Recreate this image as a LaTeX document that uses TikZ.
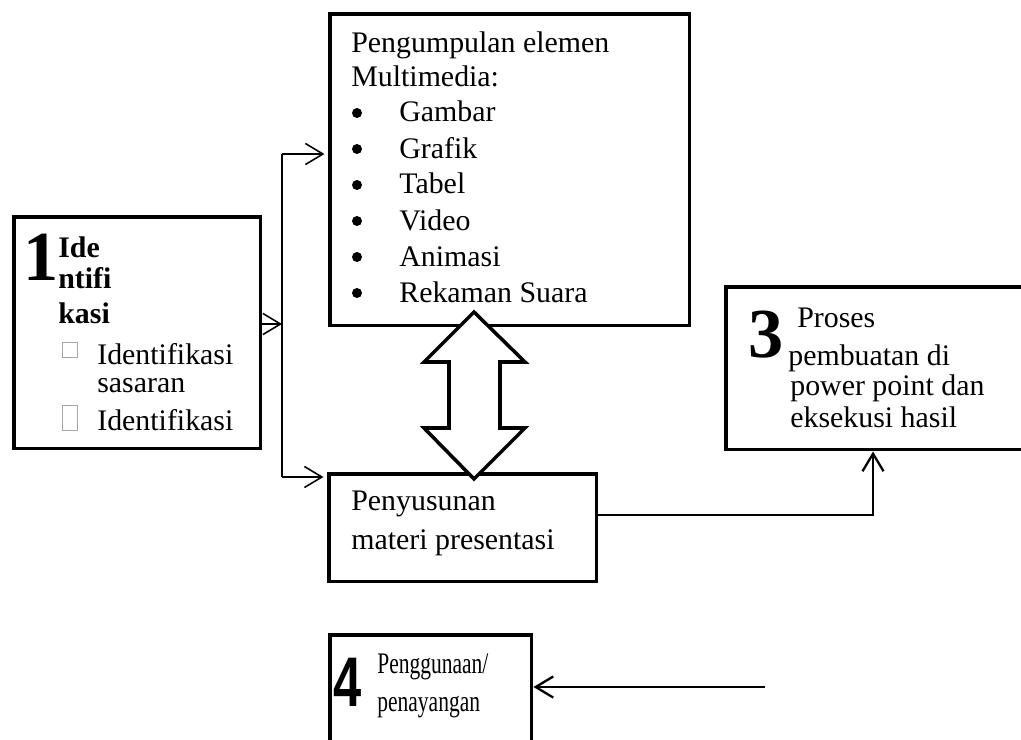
\documentclass[tikz,border=0pt]{standalone}
\usepackage{fontspec}
\setmainfont{Liberation Serif}
\newfontfamily\sansnum{Liberation Sans}
\usetikzlibrary{arrows.meta, calc}

\newcommand{\narrow}[1]{\scalebox{0.72}[1]{#1}}

\tikzset{
  box/.style={draw, line width=2pt, anchor=north west, inner sep=0pt},
  txt/.style={anchor=base west, inner sep=0pt, font=\fontsize{17}{20}\selectfont},
  boldtxt/.style={txt, font=\fontsize{17}{20}\selectfont\bfseries},
  num/.style={anchor=base west, inner sep=0pt, font=\fontsize{40}{40}\selectfont\bfseries},
  sq/.style={draw=gray!70, line width=0.5pt, anchor=north west, inner sep=0pt, minimum width=0.3cm},
  dot/.style={circle, fill, inner sep=0pt, minimum size=0.2cm},
  link/.style={line width=0.9pt, -{Straight Barb[length=10pt,width=12pt]}},
  link2/.style={line width=1.3pt, -{Straight Barb[length=10pt,width=12pt]}},
}

\begin{document}
\begin{tikzpicture}[x=0.02cm, y=-0.02cm]
  \useasboundingbox (0,0) rectangle (1021,740);
  \clip (0,0) rectangle (1021,740);

  % boxes
  \node[box, minimum width=4.94cm, minimum height=4.64cm] (ident) at (12,215) {};
  \node[box, minimum width=7.2cm, minimum height=6.24cm] (multi) at (328,12) {};
  \node[box, minimum width=5.36cm, minimum height=2.16cm] (susun) at (327,472) {};
  \node[box, minimum width=6.4cm, minimum height=3.26cm] (proc) at (724,285) {};
  \node[box, minimum width=4.04cm, minimum height=3cm] (use) at (328,633) {};

  % box 1
  \node[num] (n1) at (23,280) {1};
  \node[boldtxt] (t1a) at (58,257) {Ide};
  \node[boldtxt] (t1b) at (58,288) {ntifi};
  \node[boldtxt] (t1c) at (58,323) {kasi};
  \node[sq, minimum height=0.3cm] (sq1) at (62,342) {};
  \node[sq, minimum height=0.5cm] (sq2) at (62,405) {};
  \node[txt] (l1a) at (97,364) {Identifikasi};
  \node[txt] (l1b) at (97,392) {sasaran};
  \node[txt] (l1c) at (97,430) {Identifikasi};

  % multimedia
  \node[txt] (m1) at (351,53) {Pengumpulan elemen};
  \node[txt] (m2) at (351,87) {Multimedia:};
  \foreach \el [count=\i from 0] in {Gambar, Grafik, Tabel, Video, Animasi, Rekaman Suara} {
    \node[dot] (dot\i) at (357,113+36*\i) {};
    \node[txt] (item\i) at (399,122+36*\i) {\el};
  }

  % penyusunan
  \node[txt] (s1) at (351,510) {Penyusunan};
  \node[txt] (s2) at (351,549) {materi presentasi};

  % box 3
  \node[num] (n3) at (748,357) {3};
  \node[txt] (p1) at (797,327) {Proses};
  \node[txt] (p2) at (788,365) {pembuatan di};
  \node[txt] (p3) at (790,395) {power point dan};
  \node[txt] (p4) at (790,427) {eksekusi hasil};

  % box 4
  \node[num, font=\fontsize{40}{40}\sansnum\bfseries] (n4) at (333,706) {\narrow{4}};
  \node[txt] (u1) at (377,673) {\narrow{Penggunaan/}};
  \node[txt] (u2) at (377,711) {\narrow{penayangan}};

  % double arrow
  \draw[line width=2pt, fill=white, line join=miter]
    (474,312) -- (525,362) -- (500,362) -- (500,428) -- (525,428) -- (474,479)
    -- (424,428) -- (449,428) -- (449,362) -- (424,362) -- cycle;

  % connectors
  \coordinate (jmid) at (282,324);
  \coordinate (jtop) at (282,154);
  \coordinate (jbot) at (282,477);
  \draw[link] (ident.east |- jmid) -- (jmid);
  \draw[line width=0.9pt] (jtop) -- (jbot);
  \draw[link, shorten >=2pt] (jtop) -- (jtop -| multi.west);
  \draw[link, shorten >=2pt] (jbot) -- (jbot -| susun.west);
  \coordinate (kink) at (873,515);
  \draw[link2] (susun.east |- kink) -- (kink) -- (kink |- proc.south);
  \coordinate (from4) at (765,687);
  \draw[link2] (from4) -- (from4 -| use.east);
\end{tikzpicture}
\end{document}
